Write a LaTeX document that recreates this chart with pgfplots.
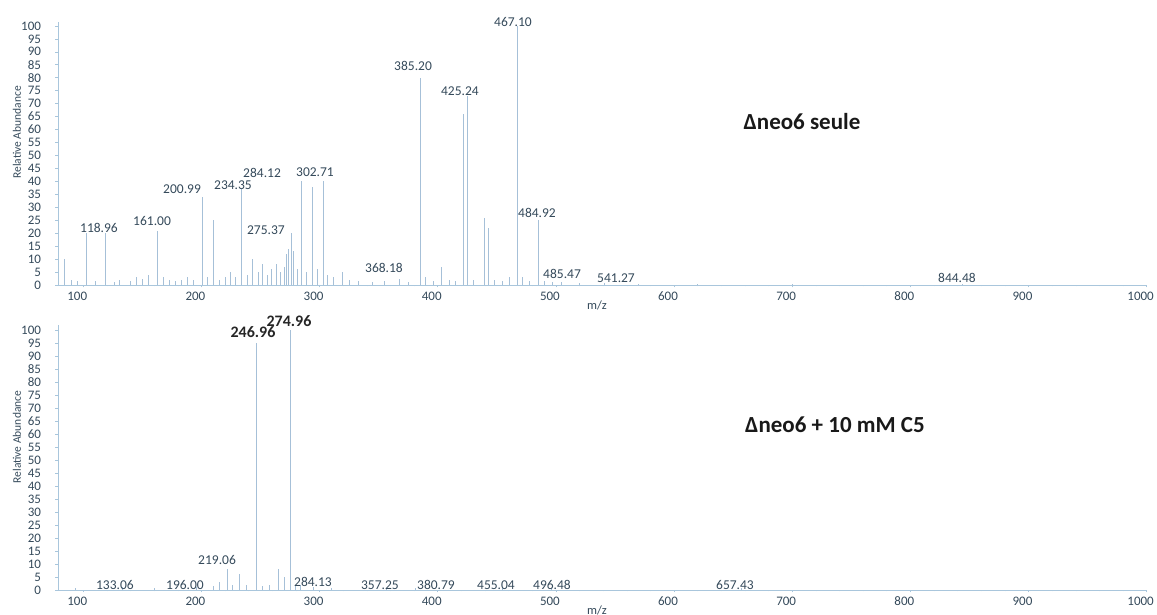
\documentclass[border=0pt]{standalone}
\usepackage{pgfplots}
\pgfplotsset{compat=1.18}
\usepackage{fontspec}
\setmainfont{Carlito}
\definecolor{peak}{HTML}{A6C0D8}
\definecolor{axc}{HTML}{A9C6DC}
\definecolor{txt}{HTML}{34495A}

\pgfplotstableread{
mz h
84.5 10
90 2
95 1.5
102.3 20
110 1.5
119.2 20
126 1
131 2
140 1.5
145 3
150 2.5
155 4
162.4 21
168 3
173 2
178 1.5
183 2
188 3
193 2
200.5 34
205 3
209.8 25
215 2
220 3
225 5
229 3
234.3 37
239 4
243.6 10
248 5
252.1 8
256 4
259 6
263.9 8
267 5
270 7
272 12
274 14
276 20
278 13
281 6
285.1 40
289 5
293.6 38
298 6
302.9 40
307 4
312 3
319 5
325 2
333 1.5
345 1
355 1.5
368 2.5
375 1
385.8 80
390 3
396 1.5
403.6 7
410 2
415 1.5
421.4 66
424.8 73
430 2
439.2 26
442.6 22
448 2
455 1.5
461 3
467.1 100
472 3
478 1.5
484.9 25
490 1.5
497 1
505 1
520 0.8
541 0.8
570 0.5
620 0.4
700 0.4
844 0.5
}\topdata

\pgfplotstableread{
mz h
93 0.8
133 1
160 0.6
196 1
210 1.5
215 3
221.7 8
226 2
232.6 6
238 2
247 95
252 1.5
258 2
265.6 8
270.7 5
275 100
280 1.5
284 2
295 1
310 0.8
357 0.8
381 0.8
455 0.8
496 0.8
657 0.8
}\botdata

\pgfplotsset{ms/.style={
 scale only axis, width=1089pt,
 xmin=78.6, xmax=1000.3, ymin=0,
 axis x line=bottom, axis y line=left,
 axis line style={axc, -, line width=0.6pt},
 xtick={100,200,...,1000}, ytick={0,5,...,100},
 tick style={axc, line width=0.5pt}, tick align=outside,
 major tick length=2.5pt,
 minor x tick num=4, minor tick length=1.5pt,
 ticklabel style={font=\fontsize{13}{13}\selectfont, text=txt},
 /pgf/number format/assume math mode=true,
 /pgf/number format/1000 sep={},
 scaled ticks=false,
 xticklabel style={xshift=-6pt, yshift=-1pt},
 yticklabel style={xshift=-11pt},
 clip=false,
}}
\tikzset{lab/.style={font=\fontsize{13.5}{13.5}\selectfont, text=txt, inner sep=0pt},
 blab/.style={font=\bfseries\fontsize{16}{16}\selectfont, text=black!85, inner sep=0pt},
 big/.style={font=\bfseries\fontsize{23}{23}\selectfont, text=black!90, inner sep=0pt},
 yl/.style={font=\fontsize{11.5}{11.5}\selectfont, text=txt, inner sep=0pt},
 mz/.style={font=\fontsize{12.5}{12.5}\selectfont, text=txt, inner sep=0pt}}

\begin{document}
\begin{tikzpicture}[x=1pt,y=1pt]
\useasboundingbox (0,0) rectangle (1157,615);

\begin{axis}[ms, at={(58pt,330pt)}, anchor=south west, height=263pt, ymax=101.5]
\addplot[ycomb, peak, line width=1pt, no marks] table[x=mz, y=h] {\topdata};
\node[lab] at (axis cs:463.7,101.5) {467.10};
\node[lab] at (axis cs:379.1,84.6) {385.20};
\node[lab] at (axis cs:418.8,74.9) {425.24};
\node[lab] at (axis cs:484.0,27.8) {484.92};
\node[lab] at (axis cs:505.2,4.2) {485.47};
\node[lab] at (axis cs:550.9,2.7) {541.27};
\node[lab] at (axis cs:839.5,2.7) {844.48};
\node[lab] at (axis cs:354.5,6.6) {368.18};
\node[lab] at (axis cs:296.1,43.6) {302.71};
\node[lab] at (axis cs:251.3,43.2) {284.12};
\node[lab] at (axis cs:226.7,38.6) {234.35};
\node[lab] at (axis cs:183.6,37.1) {200.99};
\node[lab] at (axis cs:254.6,21.2) {275.37};
\node[lab] at (axis cs:158.2,24.7) {161.00};
\node[lab] at (axis cs:113.3,22.0) {118.96};
\node[big] at (axis cs:708.3,62.9) {Δneo6 seule};
\node[mz] at (rel axis cs:0.495,0) [yshift=-20pt] {m/z};
\node[yl, xshift=-41pt, rotate=90] at (rel axis cs:0,0.58) {Relative Abundance};
\end{axis}

\begin{axis}[ms, at={(58pt,25pt)}, anchor=south west, height=265pt, ymax=101.9]
\addplot[ycomb, peak, line width=1pt, no marks] table[x=mz, y=h] {\botdata};
\node[blab] at (axis cs:274.1,103.5) {274.96};
\node[blab] at (axis cs:243.6,99.2) {246.96};
\node[lab] at (axis cs:213.2,11.5) {219.06};
\node[lab] at (axis cs:126.8,1.9) {133.06};
\node[lab] at (axis cs:186.1,1.9) {196.00};
\node[lab] at (axis cs:294.4,3.1) {284.13};
\node[lab] at (axis cs:351.1,1.9) {357.25};
\node[lab] at (axis cs:398.5,1.9) {380.79};
\node[lab] at (axis cs:449.3,1.9) {455.04};
\node[lab] at (axis cs:496.7,1.9) {496.48};
\node[lab] at (axis cs:651.6,1.9) {657.43};
\node[big] at (axis cs:736.2,63.5) {Δneo6 + 10 mM C5};
\node[mz] at (rel axis cs:0.495,0) [yshift=-20pt] {m/z};
\node[yl, xshift=-41pt, rotate=90] at (rel axis cs:0,0.577) {Relative Abundance};
\end{axis}
\end{tikzpicture}
\end{document}
